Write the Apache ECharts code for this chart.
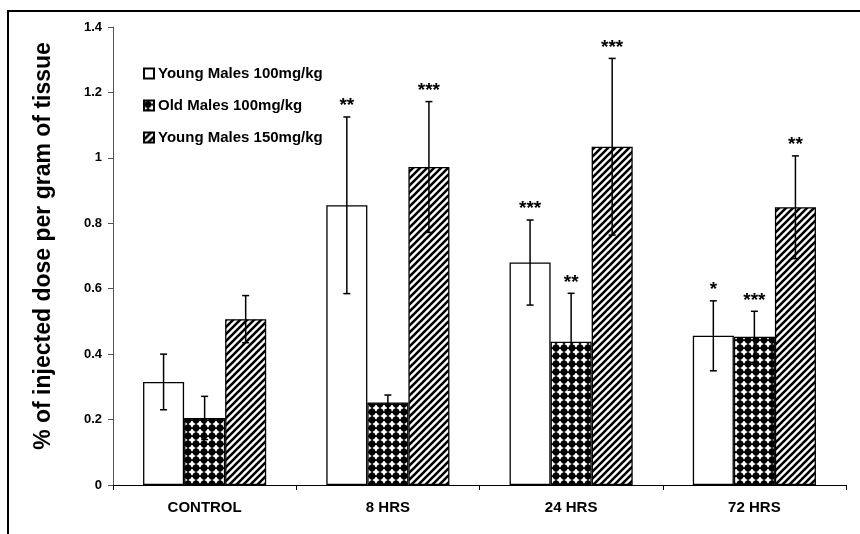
<!DOCTYPE html>
<html>
<head>
<meta charset="utf-8">
<script src="https://cdn.jsdelivr.net/npm/echarts@6/dist/echarts.min.js"></script>
<style>
html,body{margin:0;padding:0;background:#fff;}
#chart{width:860px;height:534px;}
</style>
</head>
<body>
<div id="chart"></div>
<script>
// ---- data ----
var categories = ['CONTROL', '8 HRS', '24 HRS', '72 HRS'];
var seriesNames = ['Young Males 100mg/kg', 'Old Males 100mg/kg', 'Young Males 150mg/kg'];
var youngMales100 = [0.315, 0.855, 0.680, 0.456];
var youngMales100Err = [0.085, 0.270, 0.130, 0.107];
var oldMales100 = [0.205, 0.252, 0.438, 0.453];
var oldMales100Err = [0.066, 0.023, 0.148, 0.078];
var youngMales150 = [0.507, 0.972, 1.034, 0.849];
var youngMales150Err = [0.072, 0.200, 0.270, 0.157];
var youngMales100Sig = ['', '**', '***', '*'];
var oldMales100Sig = ['', '', '**', '***'];
var youngMales150Sig = ['', '***', '***', '**'];
var yTicks = [0, 0.2, 0.4, 0.6, 0.8, 1, 1.2, 1.4];

var means = [youngMales100, oldMales100, youngMales150];
var errs = [youngMales100Err, oldMales100Err, youngMales150Err];
var sigs = [youngMales100Sig, oldMales100Sig, youngMales150Sig];

// ---- patterns ----
function hatchPattern() {
  var c = document.createElement('canvas');
  c.width = 7; c.height = 7;
  var g = c.getContext('2d');
  g.fillStyle = '#fff'; g.fillRect(0, 0, 7, 7);
  g.strokeStyle = '#000'; g.lineWidth = 2.6;
  g.beginPath();
  g.moveTo(-1, 8); g.lineTo(8, -1);
  g.moveTo(-2, 2); g.lineTo(2, -2);
  g.moveTo(5, 9); g.lineTo(9, 5);
  g.stroke();
  return c;
}
function dotPattern() {
  var c = document.createElement('canvas');
  c.width = 8; c.height = 8;
  var g = c.getContext('2d');
  g.fillStyle = '#fff'; g.fillRect(0, 0, 8, 8);
  g.fillStyle = '#000';
  g.beginPath();
  g.moveTo(4, -0.3); g.lineTo(8.3, 4); g.lineTo(4, 8.3); g.lineTo(-0.3, 4); g.closePath();
  g.fill();
  g.beginPath(); g.arc(4, 4, 3.4, 0, Math.PI * 2); g.fill();
  return c;
}
var fills = [
  '#ffffff',
  { image: dotPattern(), repeat: 'repeat' },
  { image: hatchPattern(), repeat: 'repeat' }
];

var BAR_FRAC = 0.224;
var FONT = '"Liberation Sans", Arial, sans-serif';

var chart = echarts.init(document.getElementById('chart'));

var series = [];
for (var s = 0; s < 3; s++) {
  series.push({
    name: seriesNames[s],
    type: 'bar',
    data: means[s],
    barWidth: (BAR_FRAC * 100) + '%',
    barGap: '0%',
    itemStyle: { color: fills[s], borderColor: '#000', borderWidth: 1.3 },
    emphasis: { disabled: true },
    z: 2
  });
}
for (var s2 = 0; s2 < 3; s2++) {
  (function (si) {
    series.push({
      name: 'err' + si,
      type: 'custom',
      z: 5,
      silent: true,
      data: categories.map(function (c, i) { return [i, means[si][i], errs[si][i]]; }),
      encode: { x: 0, y: 1 },
      renderItem: function (params, api) {
        var ci = api.value(0), m = api.value(1), e = api.value(2);
        var band = api.size([1, 0])[0];
        var off = (si - 1) * band * BAR_FRAC;
        var top = api.coord([ci, m + e]);
        var bot = api.coord([ci, m - e]);
        var x = top[0] + off;
        var cap = 3.5;
        var children = [
          { type: 'line', shape: { x1: x, y1: top[1], x2: x, y2: bot[1] }, style: { stroke: '#000', lineWidth: 1.5 } },
          { type: 'line', shape: { x1: x - cap, y1: top[1], x2: x + cap, y2: top[1] }, style: { stroke: '#000', lineWidth: 1.5 } },
          { type: 'line', shape: { x1: x - cap, y1: bot[1], x2: x + cap, y2: bot[1] }, style: { stroke: '#000', lineWidth: 1.5 } }
        ];
        var sg = sigs[si][params.dataIndex];
        if (sg) {
          children.push({
            type: 'text',
            style: {
              text: sg, x: x, y: top[1] - 11,
              align: 'center', verticalAlign: 'middle',
              font: 'bold 19px ' + FONT,
              fill: '#000'
            }
          });
        }
        return { type: 'group', children: children };
      }
    });
  })(s2);
}

chart.setOption({
  animation: false,
  backgroundColor: '#fff',
  graphic: [{
    type: 'rect',
    shape: { x: 8, y: 11, width: 900, height: 600 },
    style: { fill: 'none', stroke: '#000', lineWidth: 2 },
    silent: true,
    z: -1
  }],
  grid: { left: 113, right: 14, top: 27, bottom: 49 },
  legend: {
    data: seriesNames,
    orient: 'vertical',
    left: 143,
    top: 66,
    padding: 0,
    itemWidth: 10,
    itemHeight: 10,
    itemGap: 17,
    icon: 'rect',
    textStyle: { fontFamily: FONT, fontWeight: 'bold', fontSize: 15, color: '#000', padding: [0, 0, 0, -1] },
    selectedMode: false
  },
  xAxis: {
    type: 'category',
    data: categories,
    axisLine: { lineStyle: { color: '#000', width: 1 } },
    axisTick: { show: true, alignWithLabel: false, length: 5, lineStyle: { color: '#000' } },
    axisLabel: { fontFamily: FONT, fontWeight: 'bold', fontSize: 15, color: '#000', margin: 15 }
  },
  yAxis: {
    type: 'value',
    min: yTicks[0],
    max: yTicks[yTicks.length - 1],
    interval: 0.2,
    splitLine: { show: false },
    axisLine: { show: true, lineStyle: { color: '#555', width: 1 } },
    axisTick: { show: true, length: 5, lineStyle: { color: '#555' } },
    axisLabel: { fontFamily: FONT, fontWeight: 'bold', fontSize: 13, color: '#000', margin: 11 },
    name: '% of injected dose per gram of tissue',
    nameLocation: 'middle',
    nameGap: 58,
    nameTextStyle: { fontFamily: FONT, fontWeight: 'bold', fontSize: 23, color: '#000', padding: [0, 0, 0, 20] }
  },
  series: series
});
</script>
</body>
</html>
